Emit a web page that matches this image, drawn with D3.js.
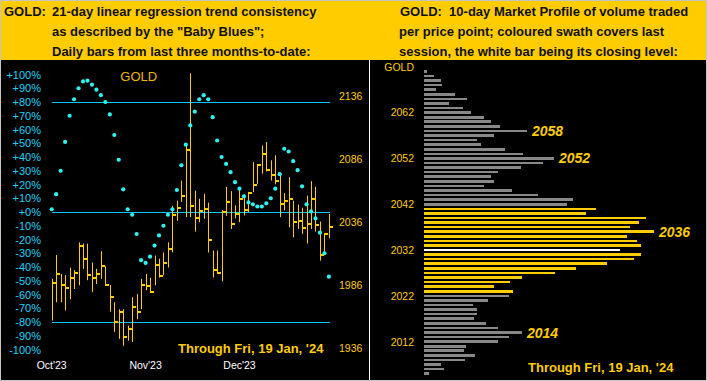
<!DOCTYPE html>
<html lang="en">
<head>
<meta charset="UTF-8" />
<title>Gold: Baby Blues and Market Profile</title>
<script src="https://d3js.org/d3.v7.min.js"></script>
<style>
  html, body { margin: 0; padding: 0; background: #c4c4c4; }
  svg { display: block; font-family: "Liberation Sans", Arial, sans-serif; }
  .hdr { font-size: 13px; font-weight: bold; fill: #111; }
</style>
</head>
<body>
<svg id="chart" width="707" height="381"></svg>
<script>
// ---- left panel data: daily bars Oct 19 '23 .. Jan 19 '24 (Feb futures) ----
const highs = [1991, 2010, 1995, 1994, 2000, 1998, 2020, 2019, 2019, 2004, 1999, 2013, 2001, 1986, 1972.5, 1967, 1967, 1954, 1976.5, 1979,
  1991, 1995, 1992, 2009.5, 2007, 2012, 2020, 2049, 2053, 2069, 2098, 2154, 2061, 2054.5, 2058.5, 2051.4, 2013.5, 2013.5, 2045.5, 2064,
  2060.6, 2049.3, 2062, 2058, 2060, 2083.6, 2081, 2096.8, 2099.5, 2085, 2089, 2075, 2059, 2071.7, 2053, 2050, 2047.4, 2057, 2068.5, 2064,
  2036.5, 2026.7, 2042.5];
const lows = [1958, 1972.5, 1972.5, 1966, 1975, 1983, 1986, 1999, 1990, 1980.5, 1987, 1991, 1986, 1965, 1949, 1943.5, 1938, 1942, 1941, 1959,
  1967, 1982, 1980.5, 1986, 1992, 1994, 2000, 2012, 2037, 2052, 2040, 2040, 2028.5, 2036, 2038.6, 2012, 1992, 1995, 1989, 2041,
  2030.6, 2039, 2036, 2041.3, 2044, 2059.8, 2066.4, 2074.4, 2076.2, 2069, 2066, 2040, 2045.3, 2032, 2024, 2030.6, 2026.7, 2019, 2030.6, 2028.5,
  2005.5, 2011, 2023.3];
const closes = [1988, 1995, 1986, 1984, 1992, 1996, 2017, 2007, 1994, 1992, 1995, 2001, 1986, 1977, 1957, 1965, 1945, 1951, 1969, 1965,
  1986, 1985, 1981, 2002, 1993, 2004, 2015, 2042, 2047, 2057, 2093, 2049, 2039, 2044.5, 2046.6, 2022, 1998, 1996, 2044.4, 2052,
  2034.6, 2042.5, 2054.5, 2046, 2059.3, 2065.6, 2081, 2090.2, 2077, 2073, 2069, 2050.6, 2052.4, 2054, 2036, 2037, 2031, 2034.6, 2054, 2034,
  2010, 2026.7, 2032];
// 21-day linear regression trend consistency ("Baby Blues"), %
const babyBlues = [2, 13, 30, 51, 70, 82, 90, 95, 95.5, 92.6, 89, 85, 80, 71, 56, 38, 16.5, 2, -2, -16,
  -35, -37, -32.5, -24.4, -17, -10, -2, 2, 16, 34, 49, 63, 73, 82, 85, 82, 69, 52, 40, 35,
  29, 21.7, 17, 11.4, 7, 5.6, 4, 4, 6.3, 10, 17, 27.5, 46, 44, 37, 30.4, 18.7, 5.6, 0.4, -4.7,
  -15, -30, -47];
const monthTicks = [0, 21, 42];
const monthLabels = ["Oct'23", "Nov'23", "Dec'23"];
const pctTicks = [100, 90, 80, 70, 60, 50, 40, 30, 20, 10, 0, -10, -20, -30, -40, -50, -60, -70, -80, -90, -100];
const pctLines = [80, 0, -80];
const priceTicks = [2136, 2086, 2036, 1986, 1936];

// ---- right panel data: 10-day market profile ----
const profilePrices = d3.range(2071, 2004, -1);
const profileVolume = [3, 10, 17, 18, 12, 31, 43, 25, 39, 47, 60, 67, 76, 103, 70, 53, 57, 81, 99, 130,
  119, 97, 74, 67, 70, 60, 88, 114, 149, 143, 172, 162, 222, 215, 206, 230, 203, 213, 217, 196,
  217, 210, 183, 152, 131, 98, 86, 70, 89, 85, 64, 49, 53, 53, 50, 62, 74, 98, 85, 74,
  42, 40, 51, 41, 17, 20, 5];
const sessionLow = 2023, sessionHigh = 2041, sessionClose = 2032;
const profileTicks = [2062, 2052, 2042, 2032, 2022, 2012];
const profileNotes = [2058, 2052, 2036, 2014];

const YELLOW = "#ffcc00", CYAN_TXT = "#1fd2f5", CYAN_LINE = "#00c8ff", DOT = "#2ef3f3";

const svg = d3.select("#chart");

// background: yellow header strip, black body, white divider
svg.append("rect").attr("x", 1).attr("y", 1).attr("width", 705).attr("height", 59).attr("fill", YELLOW);
svg.append("rect").attr("x", 1).attr("y", 60).attr("width", 705).attr("height", 320).attr("fill", "#000");
svg.append("line").attr("x1", 369.5).attr("x2", 369.5).attr("y1", 60).attr("y2", 380)
  .attr("stroke", "#fff").attr("stroke-width", 1);

// headers
const hl = svg.append("g").attr("class", "hdr");
hl.append("text").attr("x", 4).attr("y", 16).text("GOLD:");
hl.append("text").attr("x", 52).attr("y", 16).text("21-day linear regression trend consistency");
hl.append("text").attr("x", 52).attr("y", 36).text('as described by the "Baby Blues";');
hl.append("text").attr("x", 52).attr("y", 56).text("Daily bars from last three months-to-date:");
hl.append("text").attr("x", 400).attr("y", 16).text("GOLD:\u00a0 10-day Market Profile of volume traded");
hl.append("text").attr("x", 399).attr("y", 36).text("per price point; coloured swath covers last");
hl.append("text").attr("x", 399).attr("y", 56).text("session, the white bar being its closing level:");

// ---- left chart ----
const x = d3.scaleLinear().domain([0, 62]).range([51.7, 328.9]);
const yPct = d3.scaleLinear().domain([-100, 100]).range([349.5, 74.5]);
const yPrice = d3.scaleLinear().domain([1936, 2136]).range([348.3, 96]);

const pctAxis = svg.append("g")
  .attr("transform", "translate(41,0)")
  .call(d3.axisLeft(yPct).tickValues(pctTicks).tickSize(0).tickPadding(0)
    .tickFormat(d => (d >= 0 ? "+" : "") + d + "%"));
pctAxis.select(".domain").remove();
pctAxis.selectAll("text").attr("fill", CYAN_TXT).style("font-size", "11px")
  .style("font-family", '"Liberation Sans", Arial, sans-serif');

const priceAxis = svg.append("g")
  .attr("transform", "translate(339,0)")
  .call(d3.axisRight(yPrice).tickValues(priceTicks).tickSize(0).tickPadding(0).tickFormat(d3.format("d")));
priceAxis.select(".domain").remove();
priceAxis.selectAll("text").attr("fill", YELLOW).style("font-size", "10.5px")
  .style("font-family", '"Liberation Sans", Arial, sans-serif');

// +80 / 0 / -80 reference lines
svg.append("g").attr("shape-rendering", "crispEdges")
  .selectAll("rect").data(pctLines).join("rect")
  .attr("x", 52).attr("width", 278)
  .attr("y", d => Math.round(yPct(d))).attr("height", 1)
  .attr("fill", CYAN_LINE);

const bars = svg.append("g");
const lineX = i => Math.floor(x(i) + 0.5) + 0.5;
bars.selectAll("line").data(highs).join("line")
  .attr("x1", (d, i) => lineX(i)).attr("x2", (d, i) => lineX(i))
  .attr("y1", d => yPrice(d)).attr("y2", (d, i) => yPrice(lows[i]))
  .attr("stroke", YELLOW).attr("stroke-width", 1);
bars.selectAll("rect").data(closes).join("rect")
  .attr("x", (d, i) => lineX(i) - 0.5).attr("width", 4)
  .attr("y", d => Math.round(yPrice(d)) - 1).attr("height", 2)
  .attr("fill", YELLOW);

svg.append("g").selectAll("circle").data(babyBlues).join("circle")
  .attr("cx", (d, i) => x(i)).attr("cy", d => yPct(d)).attr("r", 2.1)
  .attr("fill", DOT);

svg.append("text").attr("x", 138.7).attr("y", 80.5).attr("text-anchor", "middle")
  .attr("fill", "#f0b400").style("font-size", "13px").text("GOLD");

svg.append("g").selectAll("text").data(monthTicks).join("text")
  .attr("x", d => x(d)).attr("y", 369).attr("text-anchor", "middle")
  .attr("fill", "#fff").style("font-size", "10.5px").text((d, i) => monthLabels[i]);

svg.append("text").attr("x", 178).attr("y", 353).attr("fill", YELLOW)
  .style("font-size", "13px").style("font-weight", "bold").text("Through Fri, 19 Jan, '24");

// ---- right chart ----
const yP = d3.scaleLinear().domain([2005, 2071]).range([373.7, 71.4]);
const xV = d3.scaleLinear().domain([0, 230]).range([424, 654]);

const profAxis = svg.append("g")
  .attr("transform", "translate(414,0)")
  .call(d3.axisLeft(yP).tickValues(profileTicks).tickSize(0).tickPadding(0).tickFormat(d3.format("d")));
profAxis.select(".domain").remove();
profAxis.selectAll("text").attr("fill", YELLOW).style("font-size", "10.5px")
  .style("font-family", '"Liberation Sans", Arial, sans-serif');

svg.append("text").attr("x", 414).attr("y", 71).attr("text-anchor", "end")
  .attr("fill", YELLOW).style("font-size", "10.5px").text("GOLD");

const barColor = p => p === sessionClose ? "#ffffff"
  : (p >= sessionLow && p <= sessionHigh ? YELLOW : "#888888");
svg.append("g").selectAll("rect").data(profilePrices).join("rect")
  .attr("x", xV(0))
  .attr("y", p => Math.round(yP(p) - 1.3))
  .attr("height", p => Math.round(yP(p) + 1.3) - Math.round(yP(p) - 1.3))
  .attr("width", (p, i) => xV(profileVolume[i]) - xV(0))
  .attr("fill", barColor);

svg.append("g").selectAll("text").data(profileNotes).join("text")
  .attr("x", p => xV(profileVolume[profilePrices.indexOf(p)]) + 5)
  .attr("y", p => yP(p)).attr("dy", "0.36em")
  .attr("fill", YELLOW).style("font-size", "14px").style("font-weight", "bold").style("font-style", "italic")
  .text(d => d);

svg.append("text").attr("x", 528).attr("y", 372).attr("fill", YELLOW)
  .style("font-size", "13px").style("font-weight", "bold").text("Through Fri, 19 Jan, '24");
</script>
</body>
</html>
